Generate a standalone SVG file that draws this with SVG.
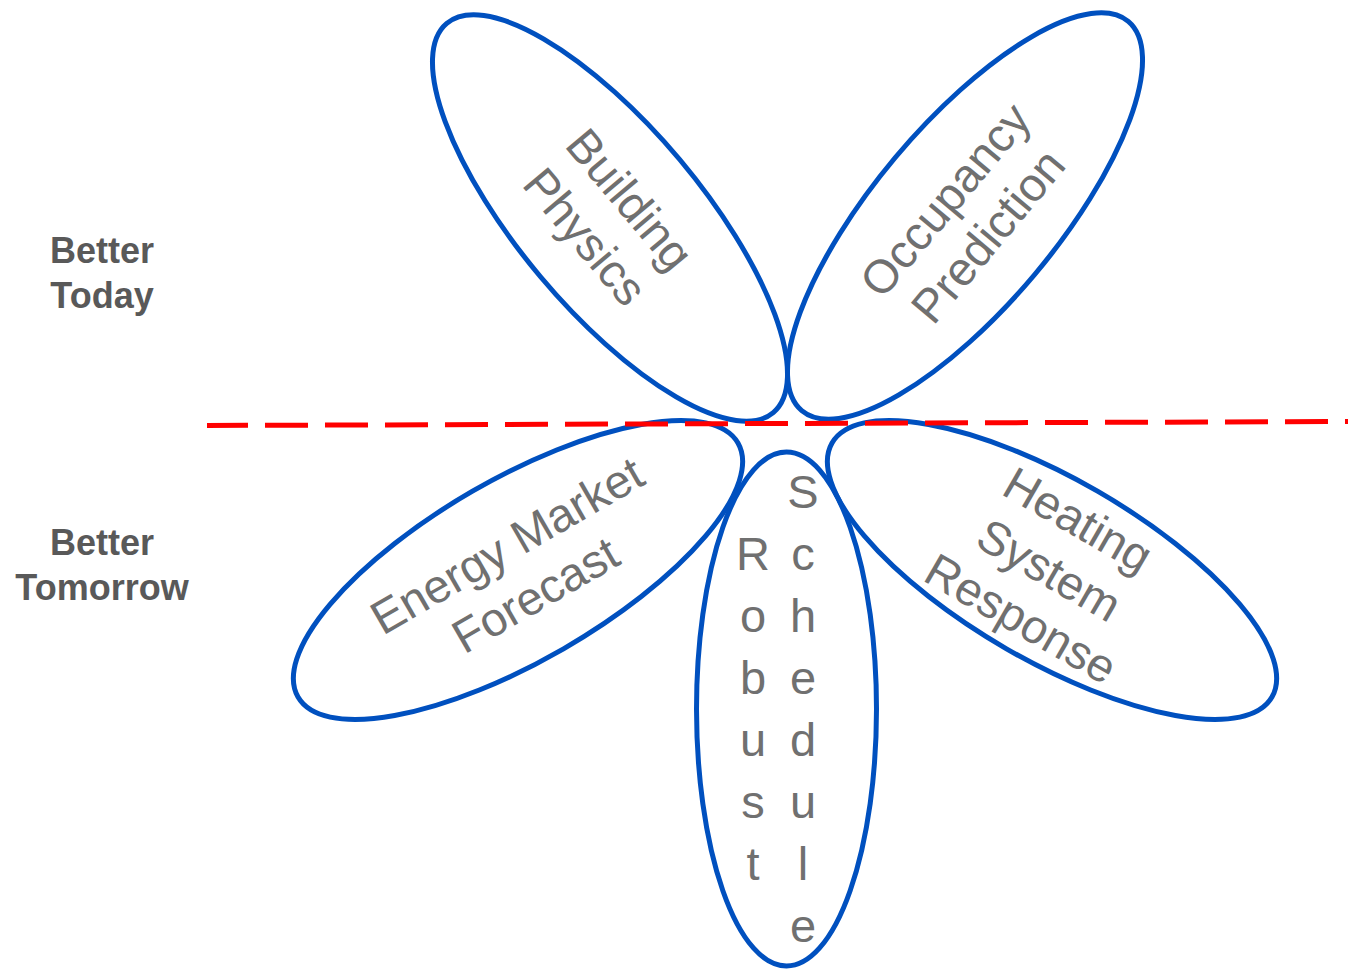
<svg xmlns="http://www.w3.org/2000/svg" width="1348" height="969" viewBox="0 0 1348 969">
<style>
.petal{fill:none;stroke:#0050BF;stroke-width:5}
.pt{font-family:"Liberation Sans",Arial,sans-serif;font-size:47px;fill:#707070;text-anchor:middle}
.lbl{font-family:"Liberation Sans",Arial,sans-serif;font-size:36px;font-weight:bold;fill:#595959;text-anchor:middle}
.divider{stroke:#FF0000;stroke-width:5;stroke-dasharray:43 17;stroke-dashoffset:2;fill:none}
</style>
<rect width="1348" height="969" fill="#FFFFFF"/>
<g id="label-today">
<text class="lbl" x="102" y="263">Better</text>
<text class="lbl" x="102" y="308">Today</text>
</g>
<g id="label-tomorrow">
<text class="lbl" x="102" y="555">Better</text>
<text class="lbl" x="102" y="600">Tomorrow</text>
</g>
<g id="building-physics">
<ellipse class="petal" cx="610" cy="218" rx="254" ry="91" transform="rotate(50 610 218)"/>
<g transform="translate(605 220) rotate(50)">
<text class="pt" x="0" y="-16">Building</text>
<text class="pt" x="0" y="42">Physics</text>
</g>
</g>
<g id="occupancy-prediction">
<ellipse class="petal" cx="965" cy="216" rx="254" ry="91" transform="rotate(-50 965 216)"/>
<g transform="translate(969 220) rotate(-50)">
<text class="pt" x="0" y="-15">Occupancy</text>
<text class="pt" x="0" y="41">Prediction</text>
</g>
</g>
<g id="energy-market-forecast">
<ellipse class="petal" cx="518" cy="570" rx="254" ry="91" transform="rotate(-30 518 570)"/>
<g transform="translate(521 570) rotate(-30)">
<text class="pt" x="0" y="-12">Energy Market</text>
<text class="pt" x="0" y="45">Forecast</text>
</g>
</g>
<g id="heating-system-response">
<ellipse class="petal" cx="1052" cy="570" rx="254" ry="91" transform="rotate(30 1052 570)"/>
<g transform="translate(1048 572) rotate(30)">
<text class="pt" x="0" y="-44">Heating</text>
<text class="pt" x="0" y="14">System</text>
<text class="pt" x="0" y="70">Response</text>
</g>
</g>
<g id="robust-schedule">
<ellipse class="petal" cx="786.5" cy="709" rx="90" ry="257"/>
<text class="pt" x="753" y="570">R</text>
<text class="pt" x="753" y="632">o</text>
<text class="pt" x="753" y="694">b</text>
<text class="pt" x="753" y="756">u</text>
<text class="pt" x="753" y="818">s</text>
<text class="pt" x="753" y="880">t</text>
<text class="pt" x="803" y="508">S</text>
<text class="pt" x="803" y="570">c</text>
<text class="pt" x="803" y="632">h</text>
<text class="pt" x="803" y="694">e</text>
<text class="pt" x="803" y="756">d</text>
<text class="pt" x="803" y="818">u</text>
<text class="pt" x="803" y="880">l</text>
<text class="pt" x="803" y="942">e</text>
</g>
<g id="connectors">
<line class="divider" x1="207" y1="425.5" x2="1348" y2="421.5"/>
</g>
</svg>
